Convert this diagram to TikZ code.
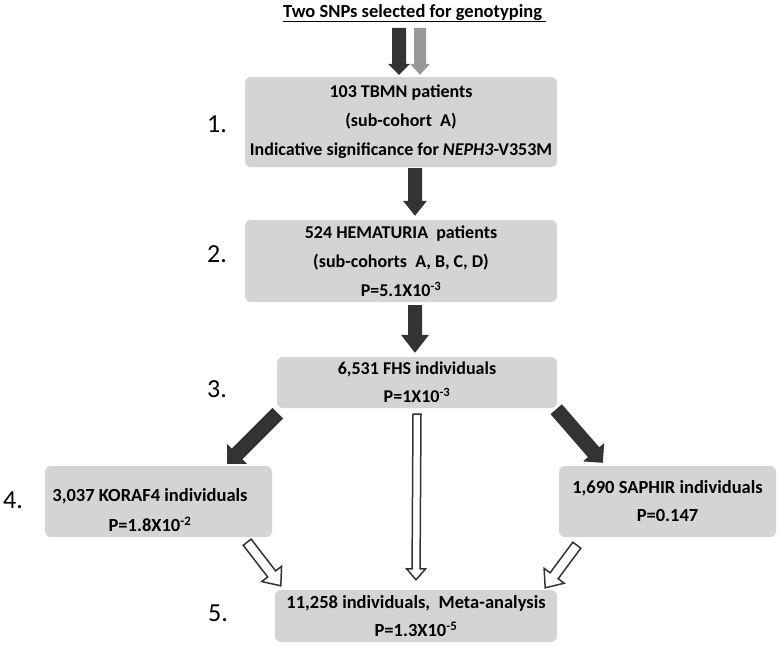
\documentclass[tikz,border=0pt]{standalone}
\usepackage{fontspec}
\setmainfont{Carlito}
\usetikzlibrary{calc}
\definecolor{boxgray}{RGB}{212,212,212}
\definecolor{darkarrow}{RGB}{51,51,51}
\definecolor{lightarrow}{RGB}{152,152,152}
% #1 style, #2 tail, #3 tip, #4 shaft half width, #5 head half width, #6 head length
\newcommand\blockarrow[6]{%
  \coordinate (bah) at ($(#3)!#6!(#2)$);
  \path[#1] ($(#2)!#4!90:(#3)$) -- ($(bah)!#4!-90:(#2)$) -- ($(bah)!#5!-90:(#2)$) -- (#3)
    -- ($(bah)!#5!90:(#2)$) -- ($(bah)!#4!90:(#2)$) -- ($(#2)!#4!-90:(#3)$) -- cycle;
}
\tikzset{
  box/.style={fill=boxgray, rounded corners=6pt, inner sep=0pt, align=center,
    font=\bfseries\fontsize{18}{29}\selectfont},
  lowbox/.style={box, font=\bfseries\fontsize{18.5}{28}\selectfont},
  boxtext/.style={inner sep=0pt, align=center, font=\bfseries\fontsize{18.5}{30}\selectfont},
  num/.style={inner sep=0pt, font=\fontsize{26}{30}\selectfont},
  solidarrow/.style={fill=darkarrow},
  grayarrow/.style={fill=lightarrow},
  openarrow/.style={fill=white, draw=darkarrow, line width=1.5pt, line join=miter},
}
\begin{document}
\begin{tikzpicture}[x=1pt,y=-1pt]
\useasboundingbox (0,0) rectangle (780,646);
\fill[white] (0,0) rectangle (780,646);

\node[anchor=base west, inner sep=0pt, font=\bfseries\fontsize{18.5}{22}\selectfont] (title) at (283,17)
  {\underline{Two SNPs selected for genotyping\ }};

\node[box, minimum width=312, minimum height=90] (b1) at (401,122)
  {103 TBMN patients\\(sub-cohort\ \ A)\\Indicative significance for \textit{NEPH3}-V353M};
\node[box, minimum width=312, minimum height=82] (b2) at (401,261)
  {524 HEMATURIA\ \ patients\\(sub-cohorts\ \ A, B, C, D)\\P=5.1X10\textsuperscript{-3}};
\node[box, minimum width=280, minimum height=51, font=\bfseries\fontsize{18}{28}\selectfont] (b3) at (417,382.5)
  {6,531 FHS individuals\\P=1X10\textsuperscript{-3}};
\node[box, minimum width=227, minimum height=71] (b4) at (158.5,501.5) {};
\node[boxtext] (t4) at (150,510.5) {3,037 KORAF4 individuals\\P=1.8X10\textsuperscript{-2}};
\node[lowbox, minimum width=217, minimum height=71] (b5) at (667.5,501.5)
  {1,690 SAPHIR individuals\\P=0.147};
\node[lowbox, minimum width=282, minimum height=52] (b6) at (416,616)
  {11,258 individuals,\ \ Meta-analysis\\P=1.3X10\textsuperscript{-5}};

\node[num] (n1) at (217,124) {1.};
\node[num] (n2) at (217,254) {2.};
\node[num] (n3) at (217,389) {3.};
\node[num] (n4) at (13,500) {4.};
\node[num] (n5) at (218,613) {5.};

% arrow end points
\coordinate (d0s) at ($(b1.north)+(-2,-49)$);
\coordinate (d0e) at ($(b1.north)+(-2,-2)$);
\coordinate (g0s) at ($(b1.north)+(19,-49)$);
\coordinate (g0e) at ($(b1.north)+(19,-2)$);
\coordinate (a12s) at ($(b1.south)+(14,1)$);
\coordinate (a12e) at ($(b2.north)+(14,-4)$);
\coordinate (a23s) at ($(b2.south)+(14,3)$);
\coordinate (a23e) at ($(b3.north)+(-2,-4)$);
\coordinate (a34s) at ($(b3.south west)+(1,5)$);
\coordinate (a34e) at ($(b4.north east)+(-45,-2)$);
\coordinate (a35s) at ($(b3.south east)+(-1,1)$);
\coordinate (a35e) at ($(b5.north west)+(44,-3)$);
\coordinate (a36s) at ($(b3.south)+(0,6)$);
\coordinate (a36e) at ($(b6.north)+(0,-10)$);
\coordinate (a46s) at ($(b4.south east)+(-25,5)$);
\coordinate (a46e) at ($(b6.north west)+(6,-4)$);
\coordinate (a56s) at ($(b5.south west)+(18,8)$);
\coordinate (a56e) at ($(b6.north east)+(-12,-2)$);

\blockarrow{solidarrow}{d0s}{d0e}{7pt}{11pt}{11pt}
\blockarrow{grayarrow}{g0s}{g0e}{6pt}{10pt}{11pt}
\blockarrow{solidarrow}{a12s}{a12e}{7pt}{12pt}{15pt}
\blockarrow{solidarrow}{a23s}{a23e}{7pt}{14pt}{18pt}
\blockarrow{solidarrow}{a34s}{a34e}{7.5pt}{14pt}{14pt}
\blockarrow{solidarrow}{a35s}{a35e}{7.5pt}{14pt}{14pt}
\blockarrow{openarrow}{a36s}{a36e}{4pt}{9.5pt}{11pt}
\blockarrow{openarrow}{a46s}{a46e}{5pt}{12.5pt}{15pt}
\blockarrow{openarrow}{a56s}{a56e}{5pt}{12.5pt}{15pt}
\end{tikzpicture}
\end{document}
